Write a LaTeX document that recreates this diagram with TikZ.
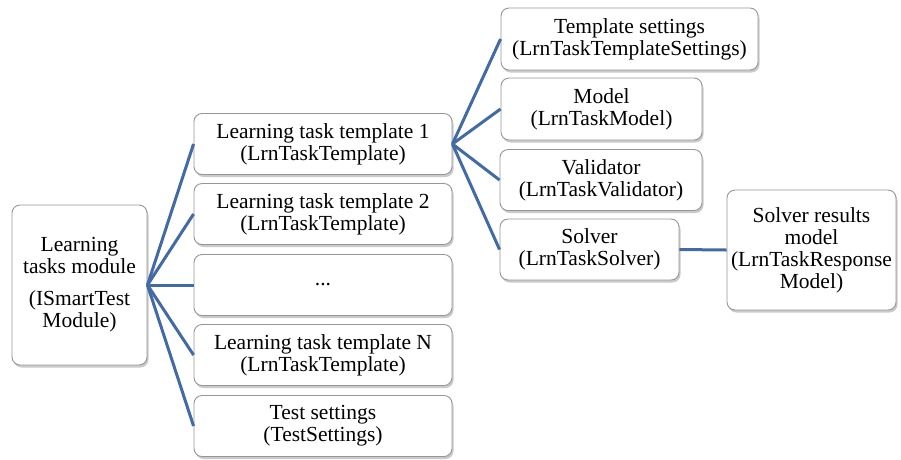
\documentclass[tikz,border=0pt]{standalone}
\usepackage{fontspec}
\setmainfont{Liberation Serif}
\usetikzlibrary{shadows}
\definecolor{linkblue}{RGB}{66,106,164}
\definecolor{boxgray}{RGB}{150,150,150}
\tikzset{
  box/.style={draw=boxgray, line width=0.9pt, rounded corners=8pt, fill=white,
    inner sep=0pt, align=center, font=\fontsize{21.5}{22}\selectfont,
    drop shadow={shadow xshift=1.5pt, shadow yshift=-2.5pt, opacity=0.35, fill=black!60}},
  link/.style={draw=linkblue, line width=3pt}
}
\begin{document}
\begin{tikzpicture}[x=1pt, y=-1pt]
\useasboundingbox (0,0) rectangle (901,459);
% root
\node[box, minimum width=135pt, minimum height=160pt] (root) at (79.5,285)
  {Learning\\tasks module\\[10pt](ISmartTest\\Module)};
% middle column
\node[box, minimum width=258pt, minimum height=61pt] (t1) at (323,144) {Learning task template 1\\(LrnTaskTemplate)};
\node[box, minimum width=258pt, minimum height=61pt] (t2) at (323,214) {Learning task template 2\\(LrnTaskTemplate)};
\node[box, minimum width=258pt, minimum height=61pt] (t3) at (323,285) {...};
\node[box, minimum width=258pt, minimum height=61pt] (tn) at (323,355) {Learning task template N\\(LrnTaskTemplate)};
\node[box, minimum width=258pt, minimum height=61pt] (ts) at (323,426) {Test settings\\(TestSettings)};
% right column
\node[box, minimum width=257pt, minimum height=62pt] (set) at (629.5,39) {Template settings\\(LrnTaskTemplateSettings)};
\node[box, minimum width=201pt, minimum height=62pt] (mod) at (601.5,109) {Model\\(LrnTaskModel)};
\node[box, minimum width=202pt, minimum height=61pt] (val) at (601,180) {Validator\\(LrnTaskValidator)};
\node[box, minimum width=179pt, minimum height=61pt] (sol) at (589.5,249.5) {Solver\\(LrnTaskSolver)};
\node[box, minimum width=169pt, minimum height=120pt] (res) at (811.5,250) {Solver results\\model\\(LrnTaskResponse\\Model)};
% connectors
\foreach \n in {t1,t2,t3,tn,ts} \draw[link] (root.east) -- (\n.west);
\foreach \n in {set,mod,val,sol} \draw[link] (t1.east) -- (\n.west);
\draw[link] (sol.east) -- (res.west);
\end{tikzpicture}
\end{document}
